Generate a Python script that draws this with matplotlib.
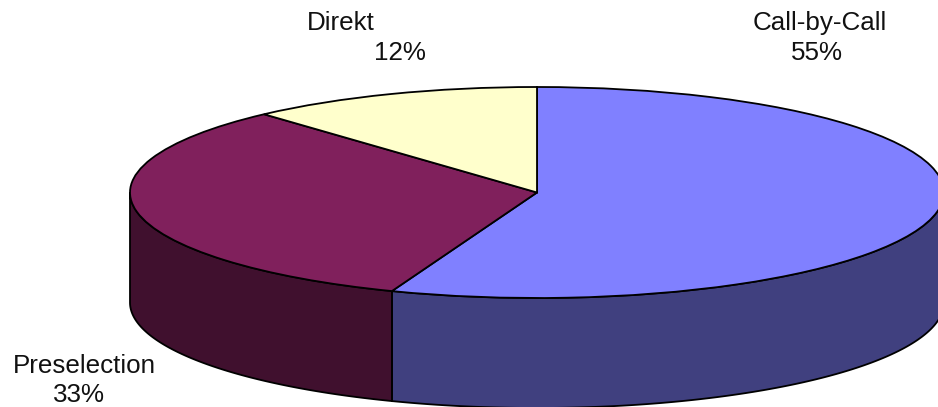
import numpy as np
from matplotlib import pyplot as plt

plt.rcParams['font.family'] = ['Liberation Sans', 'DejaVu Sans']

labels = ['Call-by-Call', 'Preselection', 'Direkt']
values = [55.8, 32.5, 11.7]
pct_labels = ['55%', '33%', '12%']
top_colors = ['#8080ff', '#80205c', '#ffffcc']
side_colors = ['#40407f', '#40102e', '#80805f']

W, H = 938, 407
cx, cy, rx, ry = 537, 192.5, 407, 105.5
depth = 110 / ry

fig = plt.figure(figsize=(W / 100, H / 100), dpi=100)
ax = fig.add_axes([0, 0, 1, 1])

# side walls, only the part of each slice facing the front (-180 to 0 deg)
start = 90
for val, col in zip(values, side_colors):
    end = start - val * 3.6
    a1, a2 = max(end, -180), min(start, 0)
    if a2 > a1:
        t = np.radians(np.linspace(a1, a2, 200))
        xs = np.cos(t)
        ys = np.sin(t)
        ax.fill(np.r_[xs, xs[::-1]], np.r_[ys, ys[::-1] - depth], fc=col, ec='black', lw=1.3)
    start = end

ax.pie(values, colors=top_colors, startangle=90, counterclock=False,
       wedgeprops={'edgecolor': 'black', 'linewidth': 1.3})

ax.set_aspect('auto')
ax.set_xlim(-cx / rx, (W - cx) / rx)
ax.set_ylim((cy - H) / ry, cy / ry)
ax.axis('off')

# label baselines in pixels of the picture
pos = [(820, 30, 817, 60), (84, 373, 79, 402), (341, 30, 400, 60)]
for lab, pct, (x1, y1, x2, y2) in zip(labels, pct_labels, pos):
    fig.text(x1 / W, 1 - y1 / H, lab, fontsize=18.7, color='#111111', ha='center', va='baseline')
    fig.text(x2 / W, 1 - y2 / H, pct, fontsize=18.7, color='#111111', ha='center', va='baseline')

fig.savefig('out.png', dpi=100)
